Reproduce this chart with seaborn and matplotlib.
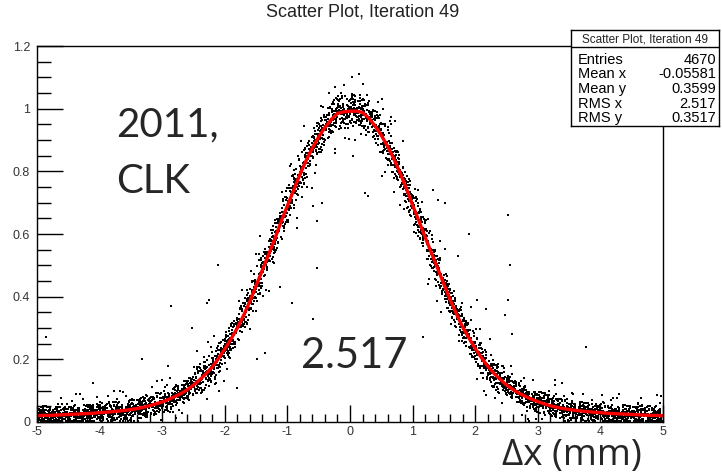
import numpy as np
import pandas as pd
import matplotlib
matplotlib.use("Agg")
import matplotlib.pyplot as plt
import seaborn as sns

# red fit curve, every 0.1 mm
curve_x = [round(-5 + 0.1 * k, 1) for k in range(101)]
curve_y = [0.020, 0.021, 0.021, 0.022, 0.023, 0.024, 0.025, 0.026, 0.027, 0.028,
           0.030, 0.031, 0.033, 0.035, 0.037, 0.040, 0.043, 0.047, 0.052, 0.058,
           0.064, 0.072, 0.081, 0.091, 0.103, 0.118, 0.135, 0.154, 0.176, 0.203,
           0.233, 0.265, 0.300, 0.340, 0.385, 0.435, 0.485, 0.535, 0.585, 0.640,
           0.690, 0.740, 0.790, 0.835, 0.875, 0.910, 0.940, 0.965, 0.985, 0.990,
           0.992, 0.992, 0.988, 0.970, 0.945, 0.915, 0.880, 0.840, 0.795, 0.745,
           0.692, 0.642, 0.590, 0.540, 0.490, 0.440, 0.390, 0.345, 0.303, 0.268,
           0.235, 0.205, 0.178, 0.155, 0.136, 0.118, 0.104, 0.092, 0.082, 0.073,
           0.065, 0.058, 0.052, 0.047, 0.043, 0.040, 0.037, 0.035, 0.033, 0.031,
           0.030, 0.028, 0.027, 0.026, 0.025, 0.024, 0.023, 0.022, 0.021, 0.021,
           0.020]

# vertical half-width of the dot band, read at x = -5 .. 5
band_halfwidth = [0.03, 0.03, 0.035, 0.05, 0.06, 0.055, 0.06, 0.05, 0.035, 0.03, 0.03]

# isolated dots away from the band
outlier_x = [-4.86, -4.1, -4.04, -2.86, -2.11, -3.33, -2.25, -0.53, -0.53, -0.59,
             -0.93, -0.85, -1.8, -1.36, -1.49, -1.12, -2.9, -2.52, -2.29,
             2.52, 1.9, 2.56, 2.52, 2.48, 3.77, 1.17, 1.73, 2.03, 2.17, 2.59,
             4.2, 4.6, 3.72, 3.39, 3.28, 1.33, 1.41, 1.52, 0.24, 0.29, 0.05,
             -0.24, -0.45, -0.59, 0.72, 0.64, 0.51, 0.21, -0.46]
outlier_y = [0.27, 0.125, 0.08, 0.37, 0.50, 0.20, 0.39, 0.64, 0.49, 0.33,
             0.38, 0.62, 0.11, 0.22, 0.20, 0.43, 0.18, 0.30, 0.38,
             0.66, 0.60, 0.50, 0.39, 0.34, 0.24, 0.27, 0.53, 0.39, 0.36, 0.28,
             0.077, 0.06, 0.09, 0.125, 0.134, 0.74, 0.71, 0.70, 0.73, 0.72, 0.85,
             0.86, 0.70, 0.69, 0.96, 0.96, 1.03, 1.08, 1.01]

stats_labels = ["Entries", "Mean x", "Mean y", "RMS x", "RMS y"]
stats_values = ["4670", "-0.05581", "0.3599", "2.517", "0.3517"]

# spread the dots of the band around the read curve (fixed pattern, no randomness)
cx = np.array(curve_x)
cy = np.array(curve_y)
slope = np.gradient(cy, cx)
px, py = [], []
for i in range(len(cx)):
    hw = band_halfwidth[int(round(cx[i] + 5))]
    for j in range(46):
        u = (j * 0.6180339 + i * i * 0.4142136) % 1
        v = (j * j * 0.7548777 + i * 0.5698403 + j * 0.31) % 1
        dx = (u - 0.5) * 0.1
        f = 2 * v - 1
        dy = np.sign(f) * abs(f) ** 2 * hw
        if j % 9 == 0:
            dy *= 2.2
        xx = cx[i] + dx
        if -5 <= xx <= 5:
            px.append(xx)
            py.append(max(cy[i] + slope[i] * dx + dy, 0.002))
px += outlier_x
py += outlier_y
dots = pd.DataFrame({"x": px, "y": py})
fit = pd.DataFrame({"x": curve_x, "y": curve_y})

sns.set_style("white")
plt.rcParams["font.family"] = ["Liberation Sans", "DejaVu Sans"]
plt.rcParams["axes.unicode_minus"] = False

fig = plt.figure(figsize=(7.22, 4.74), dpi=100)
ax = fig.add_axes([37 / 722, 1 - 422 / 474, 626 / 722, 376 / 474])

sns.scatterplot(data=dots, x="x", y="y", ax=ax, color="black", marker="s",
                s=2.0, linewidth=0)
sns.lineplot(data=fit, x="x", y="y", ax=ax, color="#ff0000", linewidth=2.4)

ax.set_xlim(-5, 5)
ax.set_ylim(0, 1.2)
ax.set_xlabel("")
ax.set_ylabel("")
ax.set_xticks(range(-5, 6))
ax.set_xticks(np.arange(-5, 5.01, 0.2), minor=True)
ax.set_yticks([0, 0.2, 0.4, 0.6, 0.8, 1, 1.2])
ax.set_yticklabels(["0", "0.2", "0.4", "0.6", "0.8", "1", "1.2"])
ax.set_yticks(np.arange(0, 1.201, 0.05), minor=True)
ax.tick_params(axis="both", which="both", direction="in", colors="black",
               labelcolor="#333333", labelsize=9, width=1,
               bottom=True, left=True, top=False, right=False)
ax.tick_params(axis="x", which="major", length=12, pad=3)
ax.tick_params(axis="x", which="minor", length=6)
ax.tick_params(axis="y", which="major", length=19, pad=5)
ax.tick_params(axis="y", which="minor", length=10)
for sp in ax.spines.values():
    sp.set_color("black")
    sp.set_linewidth(1)

fig.text(363 / 722, 1 - 12 / 474, "Scatter Plot, Iteration 49", ha="center",
         va="center", fontsize=13, color="#222222")

# stats box
bx0, bx1, by0, by1 = 571 / 722, 719 / 722, 1 - 126 / 474, 1 - 30 / 474
box = fig.add_axes([bx0, by0, bx1 - bx0, by1 - by0])
box.set_xlim(0, 1)
box.set_ylim(126, 30)
box.set_xticks([])
box.set_yticks([])
for sp in box.spines.values():
    sp.set_color("black")
    sp.set_linewidth(1)
box.axhline(47, color="black", linewidth=1)
box.text(0.5, 39, "Scatter Plot, Iteration 49", ha="center", va="center",
         fontsize=8.5, color="#222222")
for k, (lab, val) in enumerate(zip(stats_labels, stats_values)):
    yy = 60 + 14.5 * k
    box.text(0.045, yy, lab, ha="left", va="center", fontsize=10.5, color="black")
    box.text(0.98, yy, val, ha="right", va="center", fontsize=10.5, color="black")

# slide annotations
fig.text(116 / 722, 1 - 136 / 474, "2011,", fontsize=29, family=["Lato", "DejaVu Sans"],
         ha="left", va="baseline")
fig.text(116 / 722, 1 - 193 / 474, "CLK", fontsize=29, family=["Lato", "DejaVu Sans"],
         ha="left", va="baseline")
fig.text(301 / 722, 1 - 368 / 474, "2.517", fontsize=30, family=["Lato", "DejaVu Sans"],
         ha="left", va="baseline")
fig.text(502 / 722, 1 - 465 / 474, "Δx (mm)", fontsize=26.5, family=["Open Sans", "DejaVu Sans"],
         ha="left", va="baseline")

fig.savefig("out.png", dpi=100)
